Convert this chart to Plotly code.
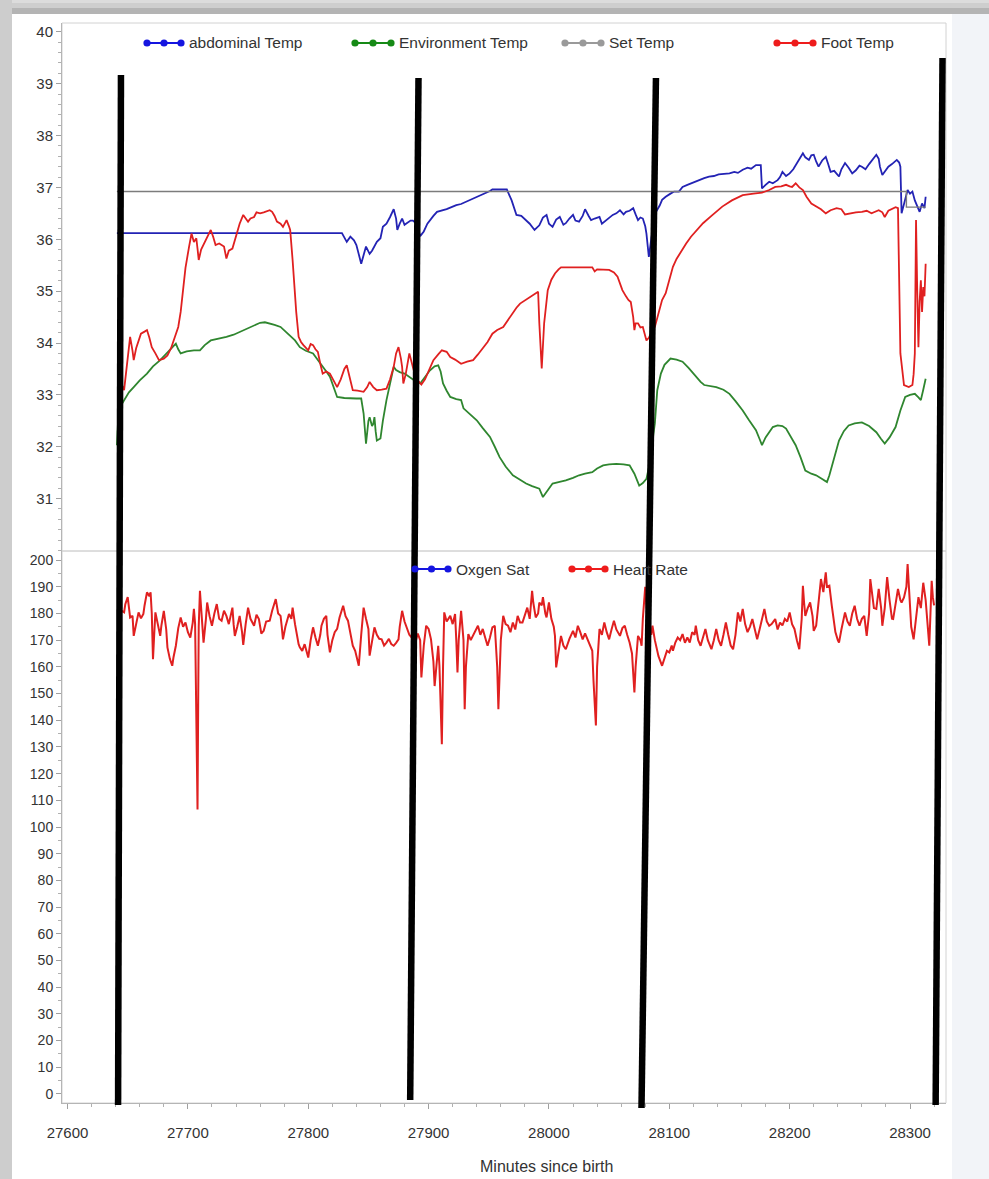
import plotly.graph_objects as go

# ---------------- data ----------------
abd_t = [27641, 27828, 27832, 27835, 27838, 27840, 27844, 27846, 27848, 27851, 27853, 27857, 27860, 27862,
         27865, 27868, 27871, 27873, 27874, 27876, 27878, 27880, 27882, 27885, 27887, 27890, 27893, 27896,
         27899, 27901, 27904, 27907, 27911, 27915, 27919, 27923, 27927, 27931, 27935, 27940, 27944, 27948,
         27951, 27953, 27965, 27969, 27973, 27977, 27981, 27984, 27988, 27990, 27992, 27995, 27998, 28000,
         28003, 28006, 28009, 28012, 28014, 28017, 28020, 28022, 28025, 28028, 28030, 28033, 28035, 28038,
         28042, 28044, 28046, 28050, 28053, 28056, 28059, 28062, 28064, 28067, 28070, 28072, 28074, 28076,
         28078, 28080, 28081, 28083, 28085, 28087, 28089, 28092, 28094, 28097, 28101, 28104, 28108, 28111,
         28115, 28118, 28122, 28125, 28129, 28133, 28137, 28141, 28146, 28150, 28154, 28157, 28161, 28165,
         28168, 28172, 28176, 28177, 28180, 28183, 28186, 28190, 28192, 28194, 28197, 28200, 28203, 28205,
         28208, 28211, 28213, 28216, 28218, 28220, 28222, 28224, 28227, 28230, 28232, 28234, 28237, 28241,
         28243, 28246, 28249, 28252, 28255, 28258, 28260, 28263, 28266, 28269, 28272, 28274, 28275, 28277,
         28279, 28282, 28285, 28287, 28289, 28291, 28292, 28293, 28295, 28298, 28300, 28302, 28304, 28306,
         28308, 28310, 28312, 28313]
abd_v = [36.12, 36.12, 35.95, 36.05, 35.98, 35.89, 35.53, 35.70, 35.86, 35.72, 35.78, 35.95, 36.02, 36.24,
         36.30, 36.43, 36.58, 36.40, 36.18, 36.30, 36.40, 36.28, 36.31, 36.36, 36.36, 36.30, 36.06, 36.15,
         36.30, 36.37, 36.45, 36.53, 36.55, 36.58, 36.62, 36.66, 36.68, 36.72, 36.76, 36.82, 36.85, 36.89,
         36.93, 36.96, 36.96, 36.75, 36.47, 36.45, 36.37, 36.30, 36.18, 36.22, 36.27, 36.42, 36.47, 36.30,
         36.24, 36.38, 36.43, 36.28, 36.31, 36.40, 36.47, 36.36, 36.34, 36.45, 36.58, 36.45, 36.37, 36.40,
         36.43, 36.30, 36.34, 36.42, 36.47, 36.50, 36.56, 36.48, 36.53, 36.55, 36.60, 36.48, 36.37, 36.42,
         36.40, 36.25, 36.11, 35.66, 36.00, 36.35, 36.53, 36.65, 36.76, 36.82, 36.88, 36.92, 36.92, 37.01,
         37.05, 37.08, 37.11, 37.14, 37.18, 37.21, 37.22, 37.25, 37.26, 37.27, 37.30, 37.28, 37.34, 37.38,
         37.36, 37.43, 37.43, 36.98, 37.05, 37.11, 37.08, 37.14, 37.20, 37.30, 37.22, 37.27, 37.35, 37.43,
         37.55, 37.66, 37.58, 37.53, 37.62, 37.63, 37.50, 37.40, 37.52, 37.59, 37.45, 37.30, 37.32, 37.21,
         37.35, 37.47, 37.38, 37.27, 37.33, 37.42, 37.40, 37.35, 37.45, 37.55, 37.63, 37.55, 37.40, 37.24,
         37.30, 37.40, 37.45, 37.50, 37.53, 37.48, 37.40, 36.50, 36.70, 36.95, 36.88, 36.92, 36.75, 36.62,
         36.53, 36.69, 36.60, 36.82]

env_t = [27641, 27642, 27644, 27647, 27651, 27655, 27660, 27666, 27671, 27677, 27681, 27685, 27688, 27690,
         27692, 27694, 27699, 27705, 27710, 27714, 27719, 27725, 27732, 27738, 27743, 27748, 27752, 27756,
         27760, 27764, 27768, 27772, 27777, 27781, 27785, 27789, 27793, 27798, 27804, 27808, 27812, 27815,
         27818, 27821, 27824, 27830, 27835, 27840, 27844, 27846, 27848, 27850, 27851, 27853, 27854, 27855,
         27856, 27857, 27860, 27862, 27865, 27868, 27871, 27873, 27876, 27880, 27883, 27886, 27890, 27893,
         27897, 27901, 27905, 27908, 27910, 27912, 27915, 27918, 27923, 27927, 27929, 27934, 27940, 27945,
         27951, 27955, 27959, 27964, 27970, 27975, 27981, 27986, 27992, 27995, 27998, 28003, 28008, 28014,
         28020, 28025, 28030, 28036, 28040, 28045, 28050, 28056, 28062, 28067, 28071, 28075, 28078, 28081,
         28083, 28086, 28088, 28090, 28093, 28096, 28101, 28106, 28111, 28116, 28122, 28126, 28129, 28134,
         28139, 28145, 28150, 28155, 28161, 28166, 28172, 28175, 28177, 28180, 28183, 28186, 28190, 28194,
         28197, 28201, 28205, 28209, 28213, 28218, 28222, 28227, 28231, 28233, 28235, 28238, 28241, 28245,
         28249, 28254, 28260, 28266, 28272, 28276, 28279, 28283, 28288, 28292, 28296, 28300, 28304, 28307,
         28309, 28311, 28313]
env_v = [32.03, 32.50, 32.78, 32.90, 33.05, 33.15, 33.28, 33.41, 33.55, 33.67, 33.77, 33.86, 33.95, 33.99,
         33.88, 33.80, 33.84, 33.86, 33.86, 33.96, 34.05, 34.08, 34.12, 34.16, 34.21, 34.27, 34.31, 34.35,
         34.39, 34.40, 34.38, 34.35, 34.31, 34.22, 34.15, 34.05, 33.92, 33.85, 33.80, 33.68, 33.54, 33.45,
         33.35, 33.15, 32.96, 32.94, 32.93, 32.93, 32.93, 32.64, 32.06, 32.50, 32.57, 32.40, 32.44, 32.57,
         32.30, 32.12, 32.16, 32.50, 32.90, 33.25, 33.54, 33.48, 33.44, 33.41, 33.36, 33.31, 33.25, 33.22,
         33.35, 33.47, 33.55, 33.57, 33.45, 33.22, 33.08, 32.96, 32.92, 32.90, 32.74, 32.64, 32.51, 32.36,
         32.19, 32.00, 31.80, 31.62, 31.45, 31.38, 31.29, 31.24, 31.19, 31.03, 31.12, 31.29, 31.32, 31.35,
         31.40, 31.45, 31.48, 31.51, 31.58, 31.64, 31.66, 31.67, 31.66, 31.64, 31.48, 31.25, 31.30, 31.38,
         31.60, 32.12, 32.45, 33.09, 33.41, 33.58, 33.70, 33.68, 33.64, 33.52, 33.35, 33.25, 33.19, 33.17,
         33.15, 33.10, 33.02, 32.88, 32.70, 32.52, 32.32, 32.15, 32.03, 32.18, 32.28, 32.38, 32.41, 32.40,
         32.35, 32.20, 32.03, 31.80, 31.54, 31.48, 31.45, 31.38, 31.32, 31.45, 31.61, 31.90, 32.12, 32.30,
         32.41, 32.45, 32.47, 32.40, 32.28, 32.15, 32.06, 32.18, 32.38, 32.70, 32.96, 33.00, 33.02, 32.95,
         32.90, 33.10, 33.31]

set_t = [27641, 28297, 28297, 28313]
set_v = [36.92, 36.92, 36.62, 36.62]

foot_t = [27643, 27645, 27647, 27650, 27652, 27654, 27655, 27657, 27659, 27661, 27664, 27666, 27668, 27670,
          27673, 27676, 27680, 27683, 27686, 27688, 27690, 27692, 27694, 27696, 27698, 27701, 27703, 27705,
          27707, 27708, 27709, 27711, 27713, 27716, 27719, 27721, 27723, 27726, 27730, 27732, 27734, 27737,
          27739, 27741, 27743, 27746, 27748, 27750, 27752, 27755, 27757, 27760, 27763, 27766, 27768, 27770,
          27772, 27774, 27777, 27779, 27781, 27782, 27784, 27785, 27787, 27788, 27790, 27792, 27794, 27796,
          27798, 27800, 27802, 27804, 27806, 27808, 27810, 27812, 27815, 27818, 27821, 27824, 27827, 27830,
          27832, 27835, 27837, 27841, 27846, 27849, 27851, 27854, 27857, 27861, 27865, 27868, 27871, 27873,
          27875, 27877, 27878, 27879, 27881, 27884, 27887, 27889, 27891, 27894, 27897, 27900, 27904, 27908,
          27911, 27915, 27918, 27922, 27927, 27932, 27937, 27941, 27945, 27949, 27953, 27957, 27962, 27966,
          27970, 27973, 27976, 27980, 27984, 27988, 27991, 27992, 27994, 27996, 27999, 28002, 28005, 28008,
          28010, 28024, 28036, 28038, 28040, 28050, 28054, 28057, 28059, 28061, 28064, 28066, 28068, 28070,
          28071, 28072, 28074, 28076, 28078, 28080, 28081, 28083, 28086, 28088, 28091, 28094, 28097, 28100,
          28103, 28106, 28110, 28114, 28118, 28122, 28128, 28135, 28144, 28152, 28161, 28170, 28177, 28183,
          28188, 28193, 28197, 28200, 28202, 28205, 28208, 28211, 28214, 28218, 28222, 28226, 28230, 28234,
          28239, 28243, 28246, 28250, 28255, 28260, 28264, 28268, 28274, 28277, 28279, 28282, 28285, 28288,
          28290, 28291, 28292, 28295, 28299, 28302, 28303, 28304, 28305, 28306, 28307, 28308, 28309, 28310,
          28311, 28312, 28313]
foot_v = [33.05, 33.20, 33.09, 33.70, 34.12, 33.85, 33.67, 33.90, 34.05, 34.18, 34.22, 34.25, 34.10, 33.92,
          33.80, 33.67, 33.70, 33.76, 33.90, 34.05, 34.20, 34.31, 34.60, 35.02, 35.45, 35.86, 36.11, 35.95,
          36.02, 35.82, 35.60, 35.80, 35.89, 36.05, 36.18, 36.05, 35.89, 35.92, 35.86, 35.63, 35.78, 35.82,
          35.98, 36.11, 36.30, 36.47, 36.40, 36.34, 36.40, 36.43, 36.52, 36.50, 36.52, 36.55, 36.56, 36.53,
          36.45, 36.34, 36.30, 36.24, 36.32, 36.37, 36.25, 36.18, 35.60, 35.21, 34.60, 34.12, 34.02, 33.96,
          33.90, 33.86, 33.98, 33.96, 33.88, 33.83, 33.60, 33.41, 33.45, 33.41, 33.28, 33.15, 33.30, 33.50,
          33.57, 33.30, 33.09, 33.08, 33.06, 33.15, 33.25, 33.15, 33.09, 33.10, 33.12, 33.30, 33.54, 33.80,
          33.92, 33.70, 33.54, 33.22, 33.40, 33.80, 33.55, 33.35, 33.28, 33.20, 33.30, 33.45, 33.67, 33.78,
          33.86, 33.83, 33.73, 33.68, 33.60, 33.64, 33.67, 33.78, 33.89, 34.02, 34.18, 34.25, 34.31, 34.45,
          34.57, 34.68, 34.76, 34.82, 34.89, 34.95, 34.99, 34.38, 33.51, 34.38, 35.02, 35.22, 35.34, 35.42,
          35.46, 35.46, 35.46, 35.38, 35.42, 35.41, 35.36, 35.28, 35.15, 35.02, 34.90, 34.83, 34.79, 34.50,
          34.25, 34.38, 34.38, 34.30, 34.31, 34.10, 34.05, 34.10, 34.25, 34.31, 34.55, 34.83, 34.96, 35.22,
          35.47, 35.62, 35.78, 35.92, 36.05, 36.15, 36.31, 36.45, 36.63, 36.75, 36.85, 36.88, 36.90, 36.95,
          37.01, 37.02, 37.05, 37.02, 37.01, 37.08, 37.00, 36.95, 36.82, 36.69, 36.63, 36.58, 36.50, 36.56,
          36.60, 36.58, 36.48, 36.50, 36.52, 36.53, 36.55, 36.50, 36.56, 36.52, 36.43, 36.55, 36.58, 36.62,
          36.60, 35.50, 33.80, 33.19, 33.15, 33.19, 33.40, 33.80, 36.37, 35.00, 33.92, 34.80, 35.21, 34.60,
          35.08, 34.90, 35.53]

hr_t = [27643, 27645, 27647, 27648, 27650, 27651, 27652, 27654, 27655, 27657, 27659, 27661, 27663, 27664,
        27666, 27668, 27669, 27670, 27671, 27672, 27673, 27675, 27677, 27678, 27680, 27682, 27683, 27685,
        27687, 27688, 27690, 27692, 27694, 27696, 27698, 27700, 27702, 27704, 27705, 27706, 27707, 27708,
        27708.6, 27709, 27710, 27711, 27712, 27713, 27715, 27716, 27718, 27720, 27722, 27724, 27726, 27728,
        27730, 27732, 27734, 27737, 27738, 27739, 27741, 27743, 27745, 27746, 27748, 27750, 27752, 27755,
        27757, 27759, 27761, 27763, 27765, 27768, 27770, 27773, 27775, 27777, 27778, 27779, 27781, 27784,
        27786, 27787, 27789, 27790, 27792, 27793, 27795, 27797, 27800, 27802, 27804, 27806, 27808, 27810,
        27811, 27813, 27815, 27816, 27818, 27820, 27822, 27824, 27826, 27829, 27831, 27833, 27835, 27837,
        27839, 27842, 27844, 27846, 27848, 27850, 27851, 27853, 27855, 27857, 27859, 27861, 27863, 27865,
        27867, 27869, 27871, 27873, 27875, 27876, 27878, 27880, 27882, 27884, 27886, 27889, 27891, 27893,
        27894, 27896, 27898, 27900, 27902, 27904, 27905, 27907, 27908, 27909, 27910, 27911, 27912, 27913,
        27915, 27918, 27920, 27922, 27923, 27924, 27925, 27927, 27929, 27930, 27931, 27933, 27935, 27938,
        27941, 27943, 27945, 27947, 27949, 27951, 27953, 27955, 27957, 27958, 27959, 27960, 27962, 27964,
        27966, 27968, 27970, 27972, 27974, 27976, 27978, 27980, 27982, 27984, 27985, 27986, 27987, 27989,
        27991, 27992, 27994, 27995, 27997, 27998, 28000, 28002, 28004, 28005, 28006, 28008, 28010, 28012,
        28014, 28017, 28020, 28022, 28024, 28026, 28028, 28030, 28032, 28034, 28036, 28037, 28039, 28040,
        28042, 28044, 28046, 28048, 28050, 28052, 28054, 28056, 28059, 28061, 28063, 28065, 28067, 28069,
        28070, 28071, 28072, 28074, 28076, 28077, 28078, 28079, 28080, 28081, 28083, 28085, 28086, 28088,
        28089, 28091, 28094, 28096, 28098, 28100, 28102, 28103, 28105, 28107, 28109, 28111, 28113, 28115,
        28117, 28119, 28121, 28122, 28124, 28126, 28128, 28130, 28132, 28135, 28137, 28139, 28141, 28143,
        28145, 28147, 28149, 28151, 28153, 28155, 28157, 28159, 28161, 28163, 28165, 28167, 28169, 28171,
        28173, 28175, 28177, 28179, 28181, 28183, 28185, 28188, 28190, 28192, 28194, 28196, 28198, 28200,
        28202, 28204, 28206, 28208, 28210, 28211, 28212, 28213, 28215, 28217, 28219, 28220, 28222, 28224,
        28226, 28228, 28230, 28231, 28233, 28235, 28237, 28238, 28240, 28241, 28243, 28246, 28248, 28250,
        28252, 28254, 28256, 28258, 28260, 28262, 28264, 28266, 28267, 28269, 28270, 28272, 28274, 28276,
        28277, 28279, 28281, 28283, 28285, 28286, 28288, 28290, 28292, 28293, 28295, 28297, 28298, 28300,
        28301, 28303, 28305, 28307, 28309, 28311, 28313, 28314, 28316, 28317, 28318, 28319, 28320]
hr_v = [178.0, 181.0, 180.4, 183.5, 186.1, 182.0, 178.5, 179.1, 171.6, 176.0, 180.4, 178.2, 179.8, 183.0,
        187.9, 186.5, 187.9, 180.0, 162.9, 172.0, 180.4, 176.0, 171.6, 175.5, 181.0, 174.0, 167.3, 163.0,
        160.4, 163.5, 167.9, 174.5, 178.5, 175.0, 176.6, 173.0, 171.0, 176.5, 181.7, 176.0, 144.0, 106.6,
        150.0, 175.0, 188.5, 181.0, 172.0, 169.1, 178.0, 184.1, 179.0, 175.4, 180.0, 183.5, 178.0, 177.3,
        181.0, 179.1, 176.0, 182.2, 176.0, 171.6, 175.0, 179.1, 173.0, 168.2, 176.0, 182.2, 178.0, 175.4,
        179.5, 177.9, 172.5, 173.5, 177.0, 177.3, 181.0, 185.4, 180.0, 179.1, 175.0, 170.3, 175.0, 179.8,
        178.0, 182.2, 176.0, 173.0, 168.5, 167.3, 166.0, 168.5, 163.5, 170.0, 174.8, 171.0, 167.9, 172.0,
        175.4, 178.0, 179.1, 172.0, 165.4, 170.0, 173.0, 174.2, 178.5, 182.9, 179.0, 177.3, 172.0, 167.9,
        166.0, 160.4, 172.0, 182.2, 178.0, 174.2, 164.2, 170.0, 174.8, 172.0, 170.5, 170.3, 168.0, 169.1,
        170.5, 168.5, 167.9, 169.0, 170.3, 175.0, 181.0, 177.0, 174.2, 172.0, 171.0, 169.1, 172.5, 170.0,
        156.0, 168.0, 175.4, 174.2, 170.3, 162.0, 152.8, 162.0, 167.9, 160.4, 148.0, 131.0, 160.0, 180.4,
        177.0, 179.1, 176.0, 179.8, 170.0, 157.9, 170.0, 181.0, 170.0, 144.1, 160.0, 172.3, 170.0, 173.0,
        175.4, 172.0, 174.2, 171.0, 167.9, 171.0, 174.8, 175.4, 160.0, 144.1, 158.0, 170.0, 179.1, 176.0,
        175.4, 173.0, 176.6, 174.0, 179.1, 176.6, 176.6, 179.0, 182.2, 178.0, 185.4, 188.5, 184.0, 178.5,
        180.0, 184.1, 183.0, 186.1, 180.0, 178.5, 184.1, 178.0, 175.0, 171.6, 159.8, 166.0, 171.6, 168.0,
        166.6, 170.5, 173.5, 171.0, 175.4, 173.0, 170.3, 172.5, 170.3, 168.0, 166.0, 155.0, 138.0, 160.0,
        174.2, 172.0, 176.6, 173.0, 170.3, 174.0, 177.3, 174.0, 171.6, 174.5, 175.4, 172.0, 169.1, 165.0,
        158.0, 150.4, 160.0, 171.6, 170.0, 167.9, 178.0, 186.1, 190.0, 183.0, 175.4, 172.0, 175.4, 170.0,
        167.9, 164.0, 160.4, 163.0, 166.0, 165.4, 168.0, 166.0, 169.1, 171.0, 170.0, 172.3, 169.0, 171.0,
        169.1, 173.0, 172.0, 175.4, 170.0, 167.9, 171.0, 174.2, 170.0, 166.6, 170.0, 174.2, 170.0, 167.9,
        172.0, 176.6, 172.0, 168.0, 166.6, 172.0, 180.4, 177.0, 181.7, 176.0, 173.0, 175.0, 177.9, 174.0,
        170.3, 174.0, 178.0, 181.7, 177.0, 175.4, 176.0, 177.9, 174.0, 176.6, 175.5, 178.0, 177.0, 180.4,
        176.0, 174.2, 170.0, 166.6, 178.0, 190.4, 184.0, 179.1, 182.0, 184.1, 179.0, 173.5, 175.4, 185.0,
        192.9, 188.0, 195.4, 190.0, 190.4, 182.9, 176.0, 173.0, 170.0, 169.1, 174.0, 180.4, 177.0, 175.4,
        180.0, 182.9, 178.0, 175.4, 178.0, 179.1, 171.6, 180.0, 192.9, 186.0, 182.0, 181.7, 189.2, 182.0,
        175.4, 182.0, 193.6, 185.0, 178.0, 177.9, 183.0, 189.2, 185.0, 184.1, 186.0, 190.0, 198.5, 185.0,
        175.0, 170.3, 178.0, 186.1, 182.0, 191.5, 185.0, 178.0, 167.9, 180.0, 192.2, 186.0, 183.0]

# hand-drawn vertical marker lines: time at top / bottom end and pixel-height extent
mark_top_t = [27644.4, 27891.6, 28088.9, 28327.0]
mark_bot_t = [27642.0, 27884.7, 28076.9, 28321.3]
mark_top_py = [75, 78, 78, 58]
mark_bot_py = [1105, 1100, 1108, 1105]

temp_ticks = list(range(31, 41))
hr_ticks = list(range(0, 201, 10))
time_ticks = list(range(27600, 28301, 100))

# ---------------- geometry ----------------
W, H = 989, 1179
L, R, T, B = 62, 43, 23, 76
PW = W - L - R
PH = H - T - B


def px_x(px):
    return (px - L) / PW


def px_y(py):
    return (H - B - py) / PH


split = px_y(551)

BLUE, GREEN, GRAY, RED = "#2323b4", "#2f862f", "#7c7c7c", "#e02020"
FONT = "Liberation Sans, Arial, sans-serif"
TXT = "#333333"

fig = go.Figure()
fig.add_trace(go.Scatter(x=abd_t, y=abd_v, mode="lines", line=dict(color=BLUE, width=1.8),
                         xaxis="x", yaxis="y", name="abdominal Temp"))
fig.add_trace(go.Scatter(x=env_t, y=env_v, mode="lines", line=dict(color=GREEN, width=1.8),
                         xaxis="x", yaxis="y", name="Environment Temp"))
fig.add_trace(go.Scatter(x=set_t, y=set_v, mode="lines", line=dict(color=GRAY, width=1.4),
                         xaxis="x", yaxis="y", name="Set Temp"))
fig.add_trace(go.Scatter(x=foot_t, y=foot_v, mode="lines", line=dict(color=RED, width=1.8),
                         xaxis="x", yaxis="y", name="Foot Temp"))
fig.add_trace(go.Scatter(x=hr_t, y=hr_v, mode="lines", line=dict(color=RED, width=2.0),
                         xaxis="x", yaxis="y2", name="Heart Rate"))

shapes = []
# window frame
shapes.append(dict(type="rect", xref="paper", yref="paper", x0=px_x(0), x1=px_x(W), y0=px_y(0), y1=px_y(3),
                   fillcolor="#dcdcdc", line_width=0, layer="below"))
shapes.append(dict(type="rect", xref="paper", yref="paper", x0=px_x(0), x1=px_x(W), y0=px_y(3), y1=px_y(8),
                   fillcolor="#cecece", line_width=0, layer="below"))
shapes.append(dict(type="rect", xref="paper", yref="paper", x0=px_x(0), x1=px_x(W), y0=px_y(8), y1=px_y(14),
                   fillcolor="#b4b4b4", line_width=0, layer="below"))
shapes.append(dict(type="rect", xref="paper", yref="paper", x0=px_x(0), x1=px_x(12), y0=px_y(0), y1=px_y(H),
                   fillcolor="#cdcdcd", line_width=0, layer="below"))
shapes.append(dict(type="rect", xref="paper", yref="paper", x0=px_x(952), x1=px_x(W), y0=px_y(14), y1=px_y(H),
                   fillcolor="#f2f4f8", line_width=0, layer="below"))
# panel frames
for y0, y1 in [(split, 1), (0, split)]:
    shapes.append(dict(type="rect", xref="paper", yref="paper", x0=0, x1=1, y0=y0, y1=y1,
                       line=dict(color="#d2d2d2", width=1), layer="below"))
# marker lines
for tt, tb, pt, pb in zip(mark_top_t, mark_bot_t, mark_top_py, mark_bot_py):
    shapes.append(dict(type="line", xref="x", yref="paper", x0=tb, x1=tt, y0=px_y(pb), y1=px_y(pt),
                       line=dict(color="black", width=6.5), layer="above"))

annotations = []


def legend_entry(x0, y, span, color, label):
    shapes.append(dict(type="line", xref="paper", yref="paper", x0=px_x(x0), x1=px_x(x0 + span),
                       y0=px_y(y), y1=px_y(y), line=dict(color=color, width=2)))
    for cx in (x0, x0 + span / 2, x0 + span):
        shapes.append(dict(type="circle", xref="paper", yref="paper", xsizemode="pixel", ysizemode="pixel",
                           xanchor=px_x(cx), yanchor=px_y(y), x0=-3.6, x1=3.6, y0=-3.6, y1=3.6,
                           fillcolor=color, line_width=0))
    annotations.append(dict(xref="paper", yref="paper", x=px_x(x0 + span + 6), y=px_y(y), text=label,
                            xanchor="left", yanchor="middle", showarrow=False,
                            font=dict(family=FONT, size=15.5, color=TXT)))


LBLUE, LGREEN, LGRAY, LRED = "#1515e0", "#168a16", "#9a9a9a", "#ee1c1c"
legend_entry(147, 43, 34, LBLUE, "abdominal Temp")
legend_entry(355, 43, 36, LGREEN, "Environment Temp")
legend_entry(565, 43, 36, LGRAY, "Set Temp")
legend_entry(777, 43, 36, LRED, "Foot Temp")
legend_entry(415, 569, 33, LBLUE, "Oxgen Sat")
legend_entry(572, 569, 33, LRED, "Heart Rate")

# axis title
annotations.append(dict(xref="paper", yref="paper", x=px_x(546), y=px_y(1166), text="Minutes since birth",
                        xanchor="center", yanchor="middle", showarrow=False,
                        font=dict(family=FONT, size=16, color=TXT)))

axis_common = dict(showgrid=False, zeroline=False, showline=True, linecolor="#b5b5b5", linewidth=1,
                   ticks="outside", ticklen=5, tickcolor="#a0a0a0", tickwidth=1)

fig.update_layout(
    width=W, height=H, autosize=False,
    margin=dict(l=L, r=R, t=T, b=B, pad=0),
    paper_bgcolor="white", plot_bgcolor="white",
    showlegend=False,
    font=dict(family=FONT, color=TXT),
    xaxis=dict(domain=[0, 1], anchor="y2", range=[27595.4, 28329.9], tickvals=time_ticks,
               tickformat="d", tickfont=dict(size=15, color=TXT), ticklabelstandoff=11,
               minor=dict(dtick=20, ticklen=3, tickcolor="#b0b0b0", ticks="outside"),
               automargin=False, **axis_common),
    yaxis=dict(domain=[split, 1], anchor="x", range=[29.99, 40.17], tickvals=temp_ticks,
               tickfont=dict(size=15, color=TXT),
               minor=dict(dtick=0.2, ticklen=3, tickcolor="#b0b0b0", ticks="outside"),
               automargin=False, **axis_common),
    yaxis2=dict(domain=[0, split], anchor="x", range=[-3.4, 203.4], tickvals=hr_ticks,
                tickfont=dict(size=14, color=TXT),
                minor=dict(dtick=5, ticklen=3, tickcolor="#b0b0b0", ticks="outside"),
                automargin=False, **axis_common),
    shapes=shapes,
    annotations=annotations,
)

fig.write_html("out.html")
